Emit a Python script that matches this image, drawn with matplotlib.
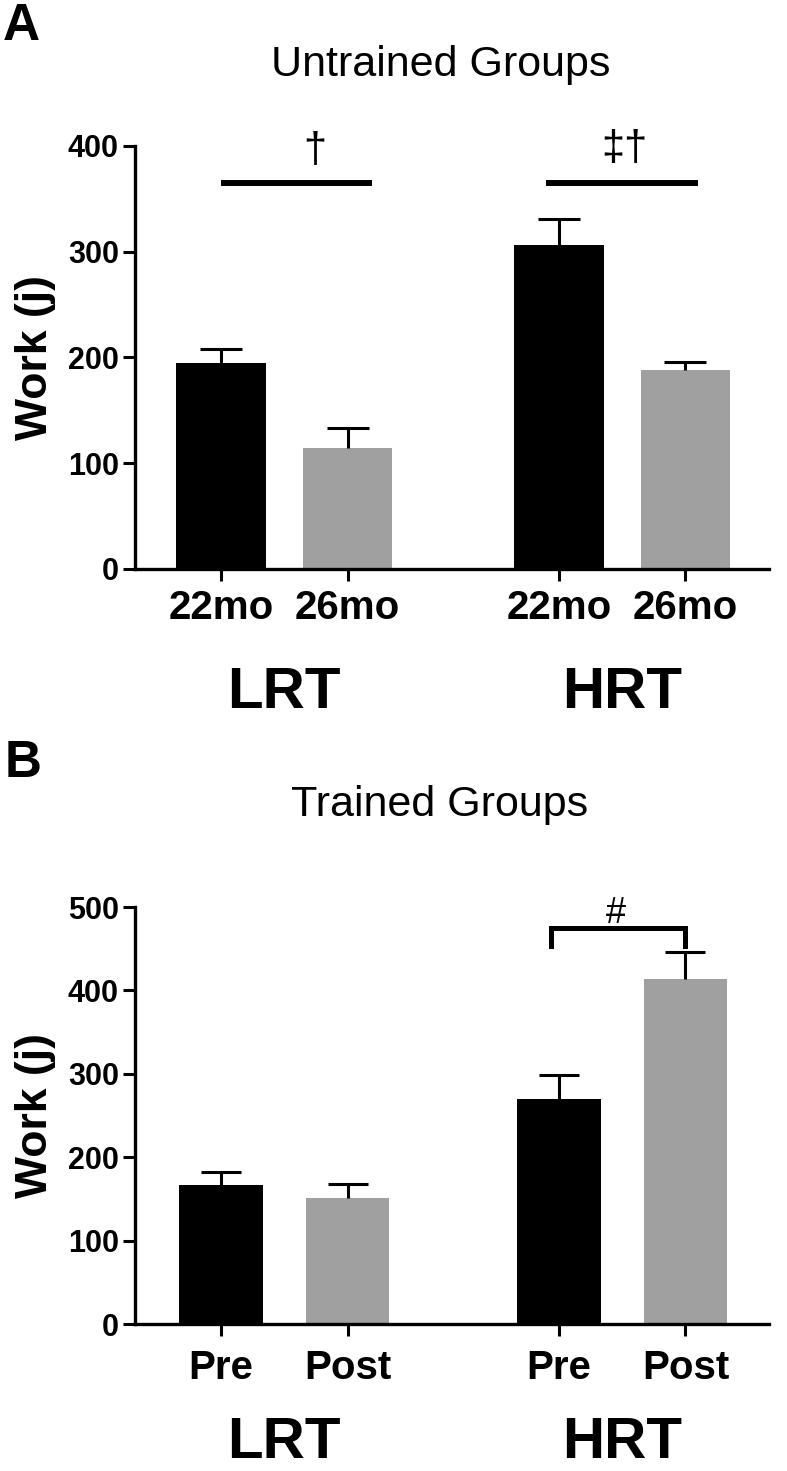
import matplotlib
matplotlib.use('Agg')
import matplotlib.pyplot as plt
import matplotlib.transforms as mtransforms

plt.rcParams['font.family'] = ['Liberation Sans', 'DejaVu Sans']

# Dane - panel A (grupy nietrenowane)
a_labels = ['22mo', '26mo', '22mo', '26mo']
a_groups = ['LRT', 'HRT']
a_means = [195, 114, 306, 188]
a_err = [13, 19, 25, 8]
a_title = 'Untrained Groups'
a_ticks = [0, 100, 200, 300, 400]

# Dane - panel B (grupy trenowane)
b_labels = ['Pre', 'Post', 'Pre', 'Post']
b_groups = ['LRT', 'HRT']
b_means = [167, 151, 270, 414]
b_err = [15, 17, 28, 32]
b_title = 'Trained Groups'
b_ticks = [0, 100, 200, 300, 400, 500]

colors = ['black', '#a0a0a0', 'black', '#a0a0a0']
xpos = [0, 1, 2.67, 3.67]
group_x = [0.5, 3.17]

fig = plt.figure(figsize=(7.87, 14.71), dpi=100)


def draw_panel(ax, means, err, labels, groups, ticks, ymax, width, cap,
               tick_y, group_y):
    ax.bar(xpos, means, width=width, color=colors, zorder=2)
    # tylko gorna czesc slupka bledu (bez dolnej kreski)
    ax.errorbar(xpos, means, yerr=[[0] * len(err), err], fmt='none',
                ecolor='black', elinewidth=2.2, capsize=0, zorder=3)
    tops = [m + e for m, e in zip(means, err)]
    ax.plot(xpos, tops, ls='none', marker='_', ms=2 * cap, mew=2.2,
            color='black', zorder=3)
    ax.set_xlim(-0.68, 4.33)
    ax.set_ylim(0, ymax)
    ax.set_yticks(ticks)
    ax.set_xticks(xpos)
    ax.set_xticklabels([])
    for s in ['top', 'right']:
        ax.spines[s].set_visible(False)
    for s in ['left', 'bottom']:
        ax.spines[s].set_linewidth(2.4)
    ax.tick_params(axis='both', length=8.6, width=2.2, direction='out')
    ax.tick_params(axis='y', labelsize=22, pad=3)
    for t in ax.get_yticklabels():
        t.set_fontweight('bold')
    trans = mtransforms.blended_transform_factory(ax.transData, fig.transFigure)
    for x, lab in zip(xpos, labels):
        ax.text(x, tick_y, lab, transform=trans, ha='center', va='center',
                fontsize=29, fontweight='bold')
    for x, g in zip(group_x, groups):
        ax.text(x, group_y, g, transform=trans, ha='center', va='center',
                fontsize=42, fontweight='bold')


# Panel A
axA = fig.add_axes([0.1715, 0.6132, 0.8056, 0.2876])
draw_panel(axA, a_means, a_err, a_labels, a_groups, a_ticks, 400, 0.71, 15,
           0.5867, 0.529)
axA.plot([0, 1.19], [365, 365], color='black', lw=4.3, solid_capstyle='butt', clip_on=False)
axA.plot([2.57, 3.77], [365, 365], color='black', lw=4.3, solid_capstyle='butt', clip_on=False)
axA.text(0.74, 395, '\u2020', ha='center', va='center', fontsize=30, clip_on=False)
axA.text(3.19, 397, '\u2021\u2020', ha='center', va='center', fontsize=30, clip_on=False)
fig.text(0.5605, 0.956, a_title, ha='center', va='center', fontsize=31)
fig.text(0.003, 0.973, 'A', ha='left', va='baseline', fontsize=37, fontweight='bold')
fig.text(0.0445, 0.757, 'Work (j)', rotation=90, ha='center', va='center',
         fontsize=32, fontweight='bold')

# Panel B
axB = fig.add_axes([0.1715, 0.0999, 0.8056, 0.2835])
draw_panel(axB, b_means, b_err, b_labels, b_groups, b_ticks, 500, 0.66, 14.4,
           0.070, 0.019)
axB.plot([2.61, 2.61, 3.67, 3.67], [453, 475, 475, 453], color='black', lw=3.6,
         solid_joinstyle='miter', clip_on=False)
axB.text(3.12, 492, '#', ha='center', va='center', fontsize=26, clip_on=False)
fig.text(0.559, 0.4527, b_title, ha='center', va='center', fontsize=31)
fig.text(0.006, 0.4718, 'B', ha='left', va='baseline', fontsize=37, fontweight='bold')
fig.text(0.0445, 0.242, 'Work (j)', rotation=90, ha='center', va='center',
         fontsize=32, fontweight='bold')

fig.savefig('out.png', dpi=100)
